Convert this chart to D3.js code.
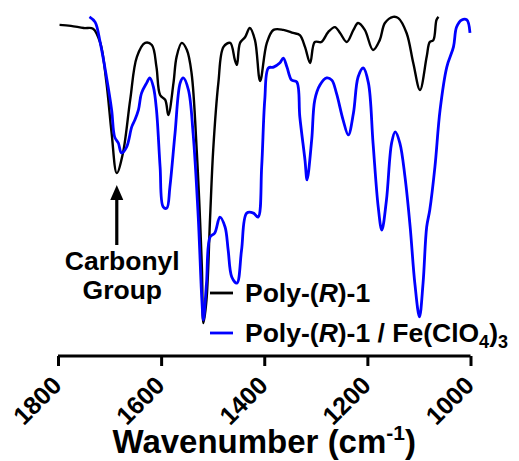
<!DOCTYPE html>
<html>
<head>
<meta charset="utf-8">
<script src="https://cdn.jsdelivr.net/npm/d3@7/dist/d3.min.js"></script>
<style>
  html, body { margin: 0; padding: 0; background: #fff; }
  svg { display: block; }
  text { font-family: "Liberation Sans", Arial, Helvetica, sans-serif; font-weight: bold; fill: #000; }
</style>
</head>
<body>
<div id="chart"></div>
<script>
// FT-IR spectra, wavenumber (cm-1) vs. transmittance (%)
const polyWn = [1797, 1775, 1750, 1732, 1718, 1706, 1696, 1686, 1674, 1660, 1647, 1631, 1618, 1609, 1602,
  1592, 1586, 1576, 1570, 1560, 1550, 1541, 1531, 1521, 1518, 1512, 1505, 1499, 1489, 1479, 1466, 1457,
  1453, 1447, 1437, 1428, 1418, 1408, 1395, 1382, 1363, 1344, 1331, 1321, 1311, 1302, 1289, 1276, 1263,
  1253, 1240, 1227, 1218, 1205, 1189, 1176, 1166, 1150, 1140, 1124, 1111, 1098, 1085, 1079, 1072, 1066, 1062];
const polyT = [96.8, 96.5, 95.8, 95.6, 91.0, 78.1, 61.9, 49.0, 55.5, 72.6, 86.5, 91.0, 90.3, 83.2, 74.2,
  72.6, 67.7, 78.1, 86.5, 91.0, 88.7, 81.3, 56.5, 18.7, 0.6, 8.1, 34.8, 56.5, 78.1, 89.7, 91.0, 85.5,
  83.9, 91.0, 92.9, 95.8, 91.9, 78.7, 91.0, 95.2, 95.2, 94.2, 93.5, 89.7, 84.5, 91.3, 91.3, 94.5, 96.1,
  94.2, 91.3, 95.2, 97.4, 95.2, 88.7, 91.9, 97.4, 99.4, 99.0, 94.2, 84.5, 75.8, 86.5, 91.3, 91.9, 98.4, 99.4];

const feWn = [1739, 1728, 1718, 1706, 1696, 1690, 1683, 1677, 1667, 1657, 1651, 1644, 1638, 1628, 1622,
  1615, 1609, 1602, 1596, 1589, 1583, 1573, 1563, 1557, 1547, 1538, 1528, 1521, 1518, 1512, 1505, 1496,
  1486, 1476, 1470, 1463, 1453, 1444, 1434, 1421, 1412, 1405, 1399, 1392, 1382, 1370, 1363, 1356, 1347,
  1337, 1331, 1321, 1317, 1308, 1302, 1292, 1279, 1269, 1260, 1247, 1237, 1227, 1218, 1208, 1198, 1189,
  1179, 1172, 1163, 1153, 1146, 1137, 1127, 1117, 1108, 1099, 1092, 1085, 1079, 1069, 1059, 1046, 1033,
  1027, 1017, 1007, 1001];
const feT = [99.4, 97.7, 91.0, 80.0, 69.4, 60.6, 58.7, 55.5, 57.4, 63.9, 66.1, 69.4, 74.8, 78.1, 79.7,
  76.8, 69.4, 51.0, 38.1, 37.7, 44.5, 61.9, 78.1, 79.7, 75.8, 61.9, 34.8, 8.1, 1.6, 13.5, 28.4, 29.7,
  34.8, 31.6, 24.2, 15.5, 13.5, 24.2, 36.1, 36.1, 34.8, 51.0, 72.6, 82.9, 83.2, 84.5, 86.1, 83.2, 79.0,
  78.4, 67.1, 53.2, 46.8, 59.7, 72.6, 77.4, 79.7, 79.0, 74.8, 66.1, 61.3, 68.4, 80.0, 82.9, 78.1, 58.7,
  38.1, 30.6, 40.3, 58.7, 62.3, 58.7, 47.7, 31.6, 13.5, 2.6, 13.5, 31.6, 37.1, 51.0, 69.4, 83.2, 89.7,
  96.1, 98.4, 98.4, 94.2];

const xTicks = [1800, 1600, 1400, 1200, 1000];
const carbonylWn = 1686;

const W = 519, H = 461;
const svg = d3.select("#chart").append("svg").attr("width", W).attr("height", H);

const x = d3.scaleLinear().domain([1800, 1000]).range([58, 470.5]);
const y = d3.scaleLinear().domain([0, 100]).range([325, 15]);

const line = d3.line()
  .x(d => x(d[0]))
  .y(d => y(d[1]))
  .curve(d3.curveCatmullRom.alpha(0.5));

const polyData = d3.zip(polyWn, polyT);
const feData = d3.zip(feWn, feT);

svg.append("path").datum(polyData)
  .attr("d", line).attr("fill", "none")
  .attr("stroke", "#000").attr("stroke-width", 2.4).attr("stroke-linejoin", "round");

svg.append("path").datum(feData)
  .attr("d", line).attr("fill", "none")
  .attr("stroke", "#0000ff").attr("stroke-width", 2.8).attr("stroke-linejoin", "round");

// x axis
const axisY = 356;
const axis = svg.append("g").attr("transform", `translate(0,${axisY})`)
  .call(d3.axisBottom(x).tickValues(xTicks).tickSize(10).tickSizeOuter(0).tickFormat(d3.format("d")));
axis.select(".domain").attr("stroke", "#000").attr("stroke-width", 3)
  .attr("d", `M${x(1800)},0H${x(1000)}`);
axis.selectAll(".tick line").attr("stroke", "#000").attr("stroke-width", 3);
axis.selectAll(".tick text")
  .attr("font-size", 25).attr("font-weight", "bold")
  .attr("font-family", '"Liberation Sans", Arial, sans-serif')
  .attr("fill", "#000")
  .attr("text-anchor", "end")
  .attr("x", 0).attr("y", 0).attr("dy", null)
  .attr("transform", "translate(4.5,31) rotate(-45)");

// axis title
const title = svg.append("text")
  .attr("x", (x(1800) + x(1000)) / 2).attr("y", 453)
  .attr("text-anchor", "middle").attr("font-size", 33);
title.append("tspan").text("Wavenumber (cm");
title.append("tspan").attr("font-size", 21).attr("dy", -13).text("-1");
title.append("tspan").attr("dy", 13).text(")");

// carbonyl annotation
const ax = x(carbonylWn);
svg.append("line").attr("x1", ax).attr("x2", ax).attr("y1", 245).attr("y2", 198)
  .attr("stroke", "#000").attr("stroke-width", 3.2);
svg.append("path").attr("d", `M${ax},185L${ax - 6.5},200L${ax + 6.5},200Z`).attr("fill", "#000");
svg.append("text").attr("x", ax + 5.5).attr("y", 270).attr("text-anchor", "middle")
  .attr("font-size", 26.5).text("Carbonyl");
svg.append("text").attr("x", ax + 5.5).attr("y", 299).attr("text-anchor", "middle")
  .attr("font-size", 26.5).text("Group");

// legend
const legend = svg.append("g");
legend.append("line").attr("x1", 210).attr("x2", 233).attr("y1", 293).attr("y2", 293)
  .attr("stroke", "#000").attr("stroke-width", 2.8);
const t1 = legend.append("text").attr("x", 245).attr("y", 301.5).attr("font-size", 26.5);
t1.append("tspan").text("Poly-(");
t1.append("tspan").attr("font-style", "italic").text("R");
t1.append("tspan").text(")-1");

legend.append("line").attr("x1", 210).attr("x2", 233).attr("y1", 333).attr("y2", 333)
  .attr("stroke", "#0000ff").attr("stroke-width", 2.8);
const t2 = legend.append("text").attr("x", 245).attr("y", 341.5).attr("font-size", 26.5);
t2.append("tspan").text("Poly-(");
t2.append("tspan").attr("font-style", "italic").text("R");
t2.append("tspan").text(")-1 / Fe(ClO");
t2.append("tspan").attr("font-size", 18).attr("dy", 6).text("4");
t2.append("tspan").attr("dy", -6).text(")");
t2.append("tspan").attr("font-size", 18).attr("dy", 6).text("3");
</script>
</body>
</html>
